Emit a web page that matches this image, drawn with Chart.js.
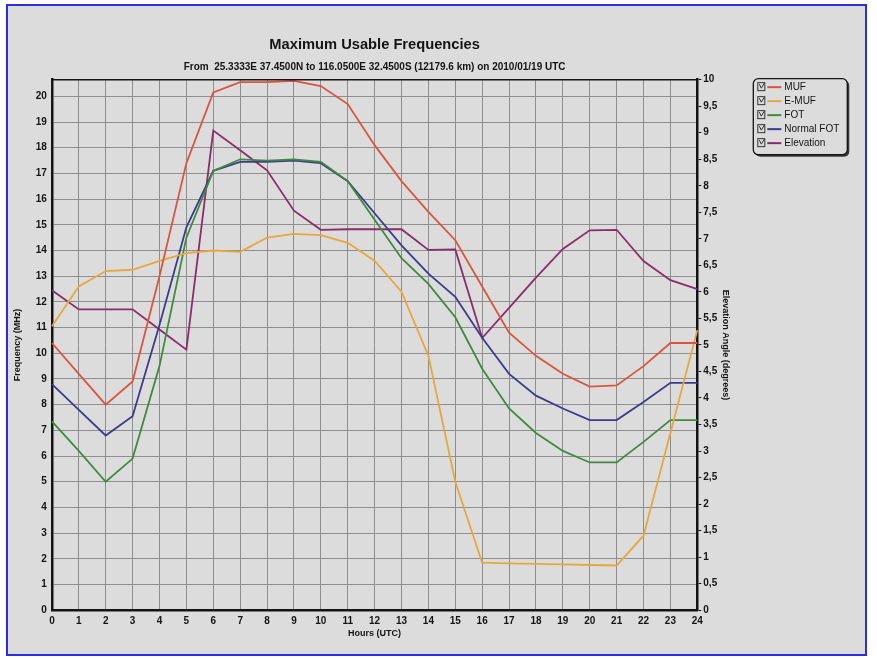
<!DOCTYPE html>
<html>
<head>
<meta charset="utf-8">
<script src="https://cdn.jsdelivr.net/npm/chart.js@4.4.1/dist/chart.umd.min.js"></script>
<style>
html,body{margin:0;padding:0;background:#fff;}
#marco{position:absolute;left:6px;top:4px;width:857px;height:648px;border:2px solid #2b2be8;background:#dcdcdc;}
#grafico{position:absolute;left:0;top:0;}
</style>
</head>
<body>
<div id="marco"></div>
<canvas id="grafico" width="877" height="659"></canvas>
<script>
// horas UTC del eje x
const horas=["0","1","2","3","4","5","6","7","8","9","10","11","12","13","14","15","16","17","18","19","20","21","22","23","24"];
// frecuencias en MHz (eje izquierdo)
const muf=[10.4,9.2,8.0,8.9,13.0,17.4,20.15,20.55,20.55,20.6,20.4,19.7,18.1,16.7,15.5,14.4,12.6,10.8,9.9,9.2,8.7,8.75,9.5,10.4,10.4];
const emuf=[11.05,12.6,13.2,13.25,13.6,13.9,14.0,13.95,14.5,14.65,14.6,14.3,13.6,12.4,9.9,5.0,1.85,1.82,1.8,1.78,1.76,1.74,2.9,6.9,10.9];
const fot=[7.35,6.2,5.0,5.9,9.5,14.5,17.1,17.55,17.5,17.55,17.45,16.7,15.2,13.7,12.7,11.4,9.4,7.85,6.9,6.2,5.75,5.75,6.55,7.4,7.4];
const normalFot=[8.8,7.8,6.8,7.55,11.1,14.9,17.1,17.45,17.45,17.5,17.4,16.7,15.45,14.2,13.1,12.2,10.6,9.2,8.35,7.85,7.4,7.4,8.1,8.85,8.85];
// angulo de elevacion en grados (eje derecho)
const elevacion=[6.03,5.67,5.67,5.67,5.29,4.91,9.04,8.67,8.29,7.53,7.17,7.18,7.18,7.18,6.79,6.8,5.13,5.7,6.27,6.81,7.16,7.17,6.58,6.22,6.05];

const titulo="Maximum Usable Frequencies";
const subtitulo="From  25.3333E 37.4500N to 116.0500E 32.4500S (12179.6 km) on 2010/01/19 UTC";

const fuente="'Liberation Sans', Arial, sans-serif";
const gris="#8e8e8e";
const negro="#141414";

function serie(nombre,datos,color,eje){
    return {label:nombre,data:datos,borderColor:color,backgroundColor:color,
        borderWidth:1.8,pointRadius:0,tension:0,fill:false,yAxisID:eje};
}

// marco superior del area y leyenda con casillas marcadas
const leyendaCasillas={
    id:"leyendaCasillas",
    afterDraw(chart){
        const ctx=chart.ctx;
        const a=chart.chartArea;
        ctx.save();
        ctx.strokeStyle=negro;
        ctx.lineWidth=1.5;
        ctx.beginPath();
        ctx.moveTo(a.left,a.top);
        ctx.lineTo(a.right,a.top);
        ctx.stroke();

        const lx=a.right+56, ly=a.top-1, w=94, h=76;
        ctx.fillStyle="#3a3a3a";
        ctx.beginPath();ctx.roundRect(lx+2,ly+2,w,h,5);ctx.fill();
        ctx.fillStyle="#dcdcdc";
        ctx.beginPath();ctx.roundRect(lx,ly,w,h,5);ctx.fill();
        ctx.strokeStyle=negro;ctx.lineWidth=1.3;
        ctx.stroke();

        ctx.font="10px "+fuente;
        ctx.textBaseline="middle";
        chart.data.datasets.forEach((ds,i)=>{
            const y=ly+8.5+i*14;
            ctx.strokeStyle="#333";ctx.lineWidth=1;
            ctx.strokeRect(lx+4.5,y-4.5,7,8);
            ctx.beginPath();
            ctx.moveTo(lx+6,y-3);ctx.lineTo(lx+8,y+1);ctx.lineTo(lx+11,y-4);
            ctx.stroke();
            ctx.strokeStyle=ds.borderColor;ctx.lineWidth=2;
            ctx.beginPath();ctx.moveTo(lx+14,y);ctx.lineTo(lx+28,y);ctx.stroke();
            ctx.fillStyle=negro;
            ctx.fillText(ds.label,lx+31,y+0.5);
        });
        ctx.restore();
    }
};

new Chart(document.getElementById("grafico"),{
    type:"line",
    data:{
        labels:horas,
        datasets:[
            serie("MUF",muf,"#d9553f","y"),
            serie("E-MUF",emuf,"#e8a73e","y"),
            serie("FOT",fot,"#3f8a3f","y"),
            serie("Normal FOT",normalFot,"#3b3b8c","y"),
            serie("Elevation",elevacion,"#8a2c6c","y1")
        ]
    },
    options:{
        responsive:false,
        animation:false,
        devicePixelRatio:1,
        layout:{padding:{top:36,left:8,right:143,bottom:14}},
        plugins:{
            legend:{display:false},
            tooltip:{enabled:false},
            title:{display:true,text:titulo,fullSize:false,color:negro,
                font:{family:fuente,size:14.7,weight:"bold"},padding:{top:0,bottom:8}},
            subtitle:{display:true,text:subtitulo,fullSize:false,color:negro,
                font:{family:fuente,size:10,weight:"bold"},padding:{top:0,bottom:6}}
        },
        scales:{
            x:{
                grid:{color:gris,lineWidth:1,drawTicks:false},
                border:{color:negro,width:2.5},
                ticks:{color:negro,padding:5,maxRotation:0,autoSkip:false,
                    font:{family:fuente,size:10,weight:"bold"}},
                title:{display:true,text:"Hours (UTC)",color:negro,
                    font:{family:fuente,size:9,weight:"bold"},padding:{top:-4.5,bottom:6.5}}
            },
            y:{
                position:"left",min:0,max:20.65,
                grid:{color:gris,lineWidth:1,drawTicks:false},
                border:{color:negro,width:2.5},
                ticks:{stepSize:1,includeBounds:false,color:negro,padding:5,
                    font:{family:fuente,size:10,weight:"bold"}},
                title:{display:true,text:"Frequency (MHz)",color:negro,
                    font:{family:fuente,size:9,weight:"bold"},padding:{top:4,bottom:8}}
            },
            y1:{
                position:"right",min:0,max:10,
                grid:{drawOnChartArea:false,color:negro,tickLength:4},
                border:{color:negro,width:2.5},
                ticks:{stepSize:0.5,color:negro,padding:2,
                    font:{family:fuente,size:10,weight:"bold"},
                    callback:v=>String(v).replace(".",",")},
                title:{display:true,text:"Elevation Angle (degrees)",color:negro,
                    font:{family:fuente,size:9,weight:"bold"},padding:{top:3,bottom:1}}
            }
        }
    },
    plugins:[leyendaCasillas]
});
</script>
</body>
</html>
